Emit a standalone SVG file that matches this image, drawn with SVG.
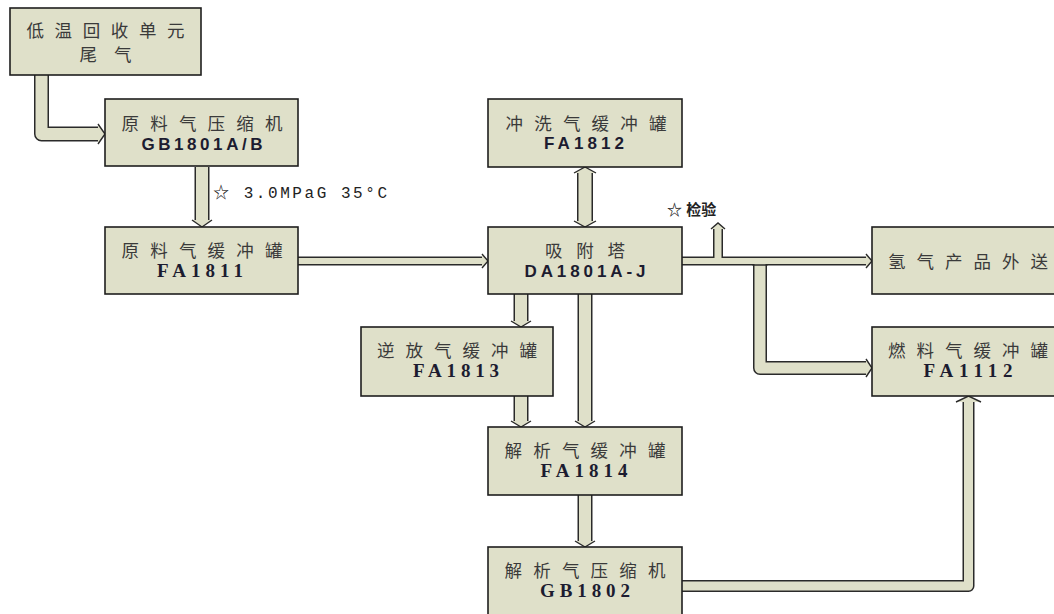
<svg xmlns="http://www.w3.org/2000/svg" width="1054" height="614" viewBox="0 0 1054 614">
<style>
.box{fill:#dfe0c9;stroke:#1e1e1e;stroke-width:1.6}
.cn{font-family:"Noto Sans CJK SC","Noto Sans",sans-serif;font-size:17.5px;fill:#3a3a3a;text-anchor:middle}
.en{font-family:"Liberation Sans",Arial,sans-serif;font-weight:bold;font-size:17px;fill:#1c1c30;text-anchor:middle}
.tm{font-family:"Liberation Serif","Times New Roman",serif;font-weight:bold;font-size:19px;fill:#1c1c30;text-anchor:middle}
.lbl{font-family:"Liberation Mono","Noto Sans CJK SC",monospace;font-size:16px;fill:#222}
.lb2{font-family:"Liberation Sans","Noto Sans CJK SC",sans-serif;font-size:15px;font-weight:bold;fill:#222}
.po{fill:none;stroke:#2a2a2a;stroke-linejoin:round}
.pi{fill:none;stroke:#dfe0c9;stroke-linejoin:round}
.hf{fill:#dfe0c9;stroke:none}
.hs{fill:none;stroke:#2a2a2a;stroke-width:1.4}
</style>
<rect width="1054" height="614" fill="#ffffff"/>
<g id="connectors">
  <path class="po" stroke-width="15" d="M41.5,75 V134 H99"/>
  <path class="pi" stroke-width="12" d="M41.5,74 V134 H100"/>
  <polygon class="hf" points="98,124 105,134 98,144"/>
  <path class="hs" d="M98,124 L105,134 L98,144"/>
  <path class="po" stroke-width="15" d="M202,167 V221"/>
  <path class="pi" stroke-width="12" d="M202,166 V222"/>
  <polygon class="hf" points="192,220 202,227 212,220"/>
  <path class="hs" d="M192,220 L202,227 L212,220"/>
  <path class="po" stroke-width="9" d="M298,261 H482"/>
  <path class="pi" stroke-width="6" d="M297,261 H483"/>
  <polygon class="hf" points="482,254 488,261 482,268"/>
  <path class="hs" d="M482,254 L488,261 L482,268"/>
  <path class="po" stroke-width="16" d="M585,173 V221"/>
  <path class="pi" stroke-width="13" d="M585,172 V222"/>
  <polygon class="hf" points="574,173 585,167 596,173"/>
  <path class="hs" d="M574,173 L585,167 L596,173"/>
  <polygon class="hf" points="574,221 585,227 596,221"/>
  <path class="hs" d="M574,221 L585,227 L596,221"/>
  <path class="po" stroke-width="9" d="M682,261 H866"/>
  <path class="pi" stroke-width="6" d="M681,261 H867"/>
  <polygon class="hf" points="866,254 872,261 866,268"/>
  <path class="hs" d="M866,254 L872,261 L866,268"/>
  <path class="po" stroke-width="10" d="M718,258 V229"/>
  <path class="pi" stroke-width="7" d="M718,262 V228"/>
  <polygon class="hf" points="711,229 718,223 725,229"/>
  <path class="hs" d="M711,229 L718,223 L725,229"/>
  <path class="po" stroke-width="14" d="M760,265 V368 H866"/>
  <path class="pi" stroke-width="11" d="M760,263 V368 H867"/>
  <path d="M752.5,265 H767.5" stroke="#2a2a2a" stroke-width="1.5"/>
  <polygon class="hf" points="866,359 872,368 866,377"/>
  <path class="hs" d="M866,359 L872,368 L866,377"/>
  <path class="po" stroke-width="15" d="M521,294 V321"/>
  <path class="pi" stroke-width="12" d="M521,293 V322"/>
  <polygon class="hf" points="511,321 521,327 531,321"/>
  <path class="hs" d="M511,321 L521,327 L531,321"/>
  <path class="po" stroke-width="15" d="M585,294 V421"/>
  <path class="pi" stroke-width="12" d="M585,293 V422"/>
  <polygon class="hf" points="575,421 585,427 595,421"/>
  <path class="hs" d="M575,421 L585,427 L595,421"/>
  <path class="po" stroke-width="15" d="M521,396 V421"/>
  <path class="pi" stroke-width="12" d="M521,395 V422"/>
  <polygon class="hf" points="511,421 521,427 531,421"/>
  <path class="hs" d="M511,421 L521,427 L531,421"/>
  <path class="po" stroke-width="15" d="M585,495 V541"/>
  <path class="pi" stroke-width="12" d="M585,494 V542"/>
  <polygon class="hf" points="575,541 585,547 595,541"/>
  <path class="hs" d="M575,541 L585,547 L595,541"/>
  <path class="po" stroke-width="12" d="M682,586 H968.5 V402"/>
  <path class="pi" stroke-width="9" d="M681,586 H968.5 V401"/>
  <polygon class="hf" points="956,402 968.5,396 981,402"/>
  <path class="hs" d="M956,402 L968.5,396 L981,402"/>
</g>
<g id="labels">
  <text class="lbl" x="213" y="198" textLength="174" lengthAdjust="spacing">☆ 3.0MPaG 35°C</text>
  <text class="lb2" x="667" y="215">☆ 检验</text>
</g>
<g id="n1">
  <rect class="box" x="10" y="8" width="191" height="67"/>
  <text class="cn" x="105.5" y="36.5" textLength="158" lengthAdjust="spacing">低温回收单元</text>
  <text class="cn" x="105.5" y="61" textLength="52" lengthAdjust="spacing">尾气</text>
</g>
<g id="n2">
  <rect class="box" x="105" y="99" width="193" height="67"/>
  <text class="cn" x="202" y="130" textLength="161" lengthAdjust="spacing">原料气压缩机</text>
  <text class="en" x="202" y="150" textLength="121" lengthAdjust="spacing">GB1801A/B</text>
</g>
<g id="n3">
  <rect class="box" x="105" y="227" width="193" height="67"/>
  <text class="cn" x="202" y="257" textLength="161" lengthAdjust="spacing">原料气缓冲罐</text>
  <text class="tm" x="200" y="277" textLength="86" lengthAdjust="spacing">FA1811</text>
</g>
<g id="n4">
  <rect class="box" x="488" y="99" width="194" height="68"/>
  <text class="cn" x="586" y="130" textLength="161" lengthAdjust="spacing">冲洗气缓冲罐</text>
  <text class="en" x="584" y="149" textLength="80" lengthAdjust="spacing">FA1812</text>
</g>
<g id="n5">
  <rect class="box" x="488" y="227" width="194" height="67"/>
  <text class="cn" x="585" y="257" textLength="80" lengthAdjust="spacing">吸附塔</text>
  <text class="en" x="585" y="277" textLength="121" lengthAdjust="spacing">DA1801A-J</text>
</g>
<g id="n6">
  <rect class="box" x="872" y="227" width="196" height="67"/>
  <text class="cn" x="968" y="268" textLength="160" lengthAdjust="spacing">氢气产品外送</text>
</g>
<g id="n7">
  <rect class="box" x="872" y="327" width="196" height="69"/>
  <text class="cn" x="968" y="357" textLength="160" lengthAdjust="spacing">燃料气缓冲罐</text>
  <text class="tm" x="968" y="377" textLength="89" lengthAdjust="spacing">FA1112</text>
</g>
<g id="n8">
  <rect class="box" x="361" y="327" width="192" height="69"/>
  <text class="cn" x="457" y="357" textLength="160" lengthAdjust="spacing">逆放气缓冲罐</text>
  <text class="tm" x="456" y="377" textLength="86" lengthAdjust="spacing">FA1813</text>
</g>
<g id="n9">
  <rect class="box" x="488" y="427" width="194" height="68"/>
  <text class="cn" x="585" y="457" textLength="161" lengthAdjust="spacing">解析气缓冲罐</text>
  <text class="tm" x="584" y="477" textLength="87" lengthAdjust="spacing">FA1814</text>
</g>
<g id="n10">
  <rect class="box" x="488" y="547" width="194" height="80"/>
  <text class="cn" x="585" y="577" textLength="161" lengthAdjust="spacing">解析气压缩机</text>
  <text class="tm" x="585" y="597" textLength="90" lengthAdjust="spacing">GB1802</text>
</g>
</svg>
